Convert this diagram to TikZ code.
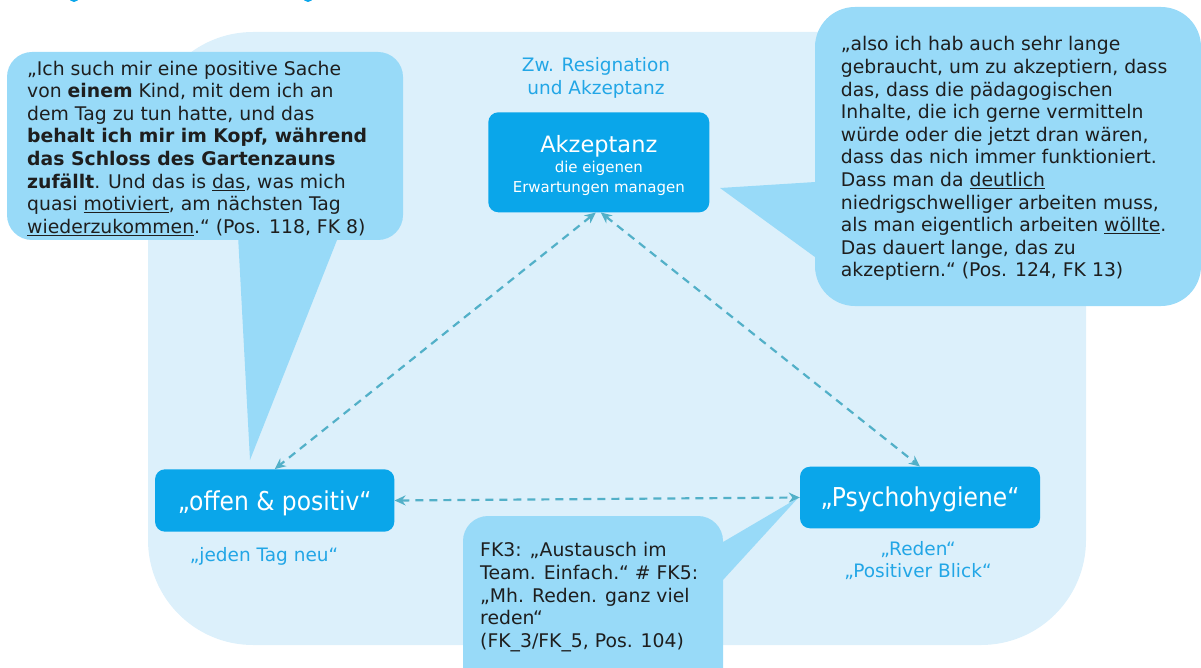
\documentclass[tikz,border=0pt]{standalone}
\usepackage{fontspec}
\setmainfont{DejaVu Sans}
\newfontfamily\boxfont[FakeStretch=0.9]{DejaVu Sans}
\usetikzlibrary{arrows.meta}
\definecolor{bgblue}{HTML}{DCF0FB}
\definecolor{callblue}{HTML}{98DAF8}
\definecolor{boxblue}{HTML}{0AA6EA}
\definecolor{subblue}{HTML}{22A6E6}
\definecolor{arrowcol}{HTML}{52B0C8}
\definecolor{txt}{HTML}{1E1E1E}
\begin{document}
\begin{tikzpicture}[x=1pt,y=-1pt,
  box/.style={fill=boxblue, rounded corners=10pt, text=white, inner sep=0pt, align=center},
  sub/.style={text=subblue, inner sep=0pt, align=center, anchor=north, font=\fontsize{18.5}{22.3}\selectfont},
  calltxt/.style={text=txt, inner sep=0pt, align=left, anchor=north west, font=\fontsize{18.8}{22.6}\selectfont},
  callshape/.style={fill=callblue},
  link/.style={draw=arrowcol, line width=2.2pt, dash pattern=on 8pt off 6pt,
    {Stealth[length=11pt,width=10pt]}-{Stealth[length=11pt,width=10pt]}}
]
\useasboundingbox (0,0) rectangle (1201,668);
\clip (0,0) rectangle (1201,668);
% cut-off title glyph remains
\fill[boxblue] (74,-3) circle[radius=5pt];
\fill[boxblue] (308,-3) circle[radius=5pt];
% background panel
\fill[bgblue, rounded corners=105pt] (148,32) rectangle (1086,645);
% callout shapes
\fill[callshape, rounded corners=25pt] (7,52) rectangle (403,240);
\fill[callshape] (238,235) -- (339,235) -- (250,460) -- cycle;
\fill[callshape, rounded corners=40pt] (815,7) rectangle (1201,306);
\fill[callshape] (825,181.4) -- (720,188) -- (825,264.3) -- cycle;
\fill[callshape, rounded corners=25pt] (463,516) rectangle (723,700);
\fill[callshape] (713,547.9) -- (798,498) -- (713,590.9) -- cycle;
% boxes
\node[box, minimum width=221pt, minimum height=100pt] (akz) at (598.8,162.3) {};
\node[text=white, inner sep=0pt, align=center, anchor=north, font=\fontsize{15}{20}\selectfont] (akzt) at (598.8,135)
  {\rule{0pt}{16pt}{\fontsize{22.5}{20}\selectfont Akzeptanz}\\die eigenen\\Erwartungen managen};
\node[box, minimum width=239.3pt, minimum height=62.4pt, text height=20.4pt, text depth=0pt,
  font=\boxfont\fontsize{26}{30}\selectfont] (offen) at (274.7,500.5) {„offen \& positiv“};
\node[box, minimum width=240pt, minimum height=61.6pt, text height=17pt, text depth=0pt,
  font=\boxfont\fontsize{26}{30}\selectfont] (psy) at (920,497.5) {„Psychohygiene“};
% sublabels
\node[sub] (zw) at (596,55.7) {\rule{0pt}{16pt}Zw. Resignation\\und Akzeptanz};
\node[sub] (jeden) at (264,545.7) {\rule{0pt}{16pt}„jeden Tag neu“};
\node[sub] (reden) at (918,539) {\rule{0pt}{16pt}„Reden“\\„Positiver Blick“};
% callout texts
\node[calltxt] (q1) at (27,59) {\rule{0pt}{16pt}„Ich such mir eine positive Sache\\
von \textbf{einem} Kind, mit dem ich an\\
dem Tag zu tun hatte, und das\\
\textbf{behalt ich mir im Kopf, während}\\
\textbf{das Schloss des Gartenzauns}\\
\textbf{zufällt}. Und das is \underline{das}, was mich\\
quasi \underline{motiviert}, am nächsten Tag\\
\underline{wiederzukommen}.“ (Pos. 118, FK 8)};
\node[calltxt] (q2) at (840.7,34.7) {\rule{0pt}{16pt}„also ich hab auch sehr lange\\
gebraucht, um zu akzeptiern, dass\\
das, dass die pädagogischen\\
Inhalte, die ich gerne vermitteln\\
würde oder die jetzt dran wären,\\
dass das nich immer funktioniert.\\
Dass man da \underline{deutlich}\\
niedrigschwelliger arbeiten muss,\\
als man eigentlich arbeiten \underline{wöllte}.\\
Das dauert lange, das zu\\
akzeptiern.“ (Pos. 124, FK 13)};
\node[calltxt] (q3) at (480,540.7) {\rule{0pt}{16pt}FK3: „Austausch im\\
Team. Einfach.“ \# FK5:\\
„Mh. Reden. ganz viel\\
reden“\\
(FK\_3/FK\_5, Pos. 104)};
% connectors
\draw[link] ([xshift=-3pt]akz.south) -- (offen.north);
\draw[link] ([xshift=2pt]akz.south) -- (psy.north);
\draw[link] (offen.east) -- (psy.west);
\end{tikzpicture}
\end{document}
